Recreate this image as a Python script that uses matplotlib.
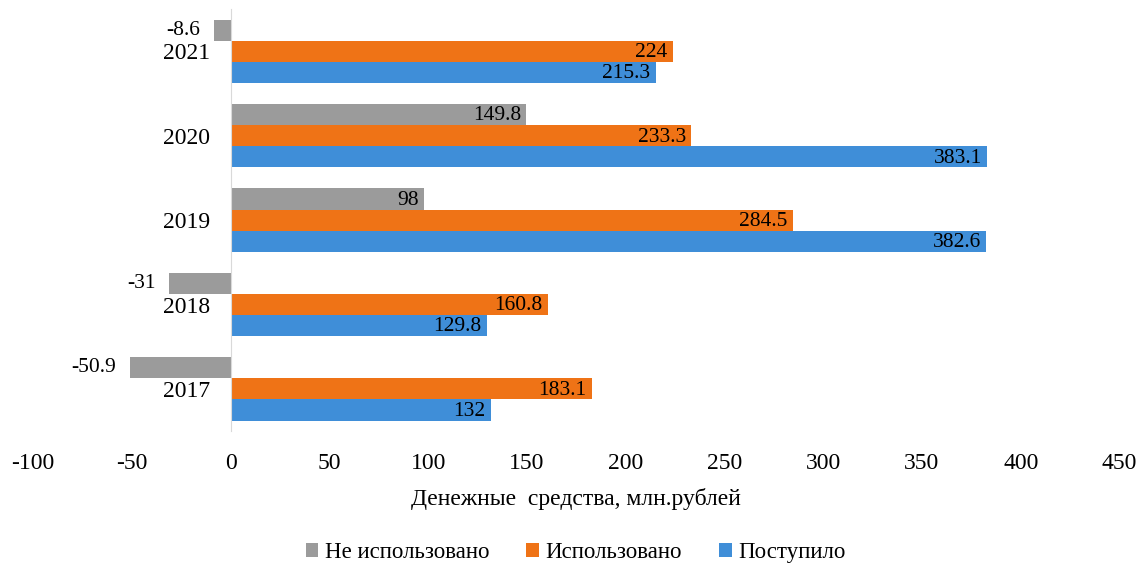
import matplotlib.pyplot as plt
import numpy as np

plt.rcParams['font.family'] = ['Liberation Serif', 'DejaVu Serif']

# данные
years = ['2017', '2018', '2019', '2020', '2021']
postupilo = [132, 129.8, 382.6, 383.1, 215.3]
ispolzovano = [183.1, 160.8, 284.5, 233.3, 224]
ne_ispolzovano = [-50.9, -31, 98, 149.8, -8.6]
xticks = [-100, -50, 0, 50, 100, 150, 200, 250, 300, 350, 400, 450]

c_blue = '#3F8ED8'
c_orange = '#EF7316'
c_gray = '#9B9B9B'

fig = plt.figure(figsize=(11.4, 5.68), dpi=100)
ax = fig.add_axes([0.029, 0.241, 0.953, 0.743])

y = np.arange(len(years))
h = 0.25
b1 = ax.barh(y - h, postupilo, height=h, color=c_blue, label='Поступило')
b2 = ax.barh(y, ispolzovano, height=h, color=c_orange, label='Использовано')
b3 = ax.barh(y + h, ne_ispolzovano, height=h, color=c_gray, label='Не использовано')

# подписи значений
def fmt(v):
    return ('%g' % v)

for bars, vals in [(b1, postupilo), (b2, ispolzovano), (b3, ne_ispolzovano)]:
    for bar, v in zip(bars, vals):
        yc = bar.get_y() + bar.get_height() / 2
        if v >= 0:
            ax.annotate(fmt(v), (v, yc), xytext=(-4, -1), textcoords='offset points',
                        ha='right', va='center', fontsize=15.5)
        else:
            ax.annotate(fmt(v), (v, yc), xytext=(-10, 0), textcoords='offset points',
                        ha='right', va='center', fontsize=15.5)

for s in ['top', 'right', 'bottom']:
    ax.spines[s].set_visible(False)
ax.spines['left'].set_position(('data', 0))
ax.spines['left'].set_color('#D9D9D9')

ax.set_xlim(-100, 450)
ax.set_ylim(-0.5, 4.5)
ax.set_xticks(xticks)
ax.set_xticklabels([str(t) for t in xticks], fontsize=17)
ax.set_yticks(y)
ax.set_yticklabels(years, fontsize=17)
ax.tick_params(axis='both', length=0)
ax.tick_params(axis='x', pad=16)
ax.tick_params(axis='y', pad=15)

ax.set_xlabel('Денежные  средства, млн.рублей', fontsize=17, labelpad=10)

handles = [b3, b2, b1]
fig.legend(handles, [hd.get_label() for hd in handles], loc='center',
           bbox_to_anchor=(0.505, 0.027), ncol=3, frameon=False, fontsize=16.5,
           handlelength=0.55, handleheight=0.55, handletextpad=0.3, columnspacing=1.6)

fig.savefig('out.png', dpi=100)
